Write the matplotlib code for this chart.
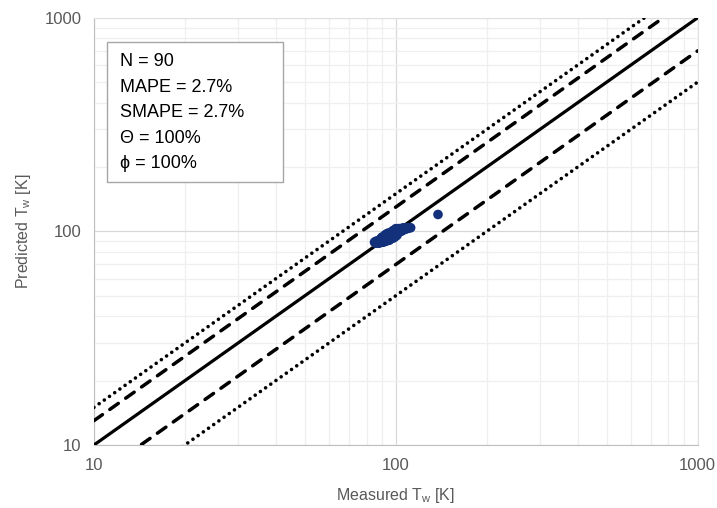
import matplotlib
matplotlib.use('Agg')
import matplotlib.pyplot as plt
from matplotlib.patches import Rectangle
import numpy as np

plt.rcParams['font.family'] = ['Liberation Sans', 'DejaVu Sans']

# measured / predicted wall temperature [K]
measured = [85, 86, 86, 87, 87, 88, 88, 88, 89, 89, 89,
            90, 90, 90, 90, 91, 91, 91, 91, 92, 92, 92, 92,
            93, 93, 93, 93, 94, 94, 94, 94, 95, 95, 95, 95,
            96, 96, 96, 96, 97, 97, 97, 97, 98, 98, 98, 98,
            99, 99, 99, 99, 100, 100, 100, 100, 101, 101, 101, 101,
            102, 102, 102, 103, 103, 103, 104, 104, 104, 105, 105,
            106, 106, 107, 107, 108, 109, 110, 111, 112,
            90, 92, 94, 96, 98, 100, 95, 97, 99, 93, 138]
predicted = [89, 90, 88, 90, 89, 91, 90, 88, 92, 91, 89,
             93, 92, 91, 89, 94, 92, 91, 89, 95, 93, 92, 90,
             96, 94, 92, 90, 97, 95, 93, 91, 97, 96, 94, 91,
             98, 96, 95, 92, 99, 97, 95, 93, 100, 98, 96, 93,
             101, 99, 97, 94, 102, 100, 98, 95, 102, 100, 99, 96,
             103, 101, 99, 103, 102, 100, 103, 102, 100, 103, 101,
             104, 102, 103, 102, 104, 103, 104, 104, 104,
             94, 96, 98, 99, 101, 103, 91, 93, 95, 97, 120]

stats_lines = ['N = 90', 'MAPE = 2.7%', 'SMAPE = 2.7%', 'Θ = 100%', 'ϕ = 100%']

# reference lines: ratio predicted/measured
ref_ratios = [1.0, 1.3, 0.7, 1.5, 0.5]
ref_styles = ['solid', 'dashed', 'dashed', 'dotted', 'dotted']

fig = plt.figure(figsize=(7.17, 5.08), dpi=100)
ax = fig.add_axes([0.131, 0.124, 0.842, 0.841])

xs = np.array([10.0, 1000.0])
for r, st in zip(ref_ratios, ref_styles):
    if st == 'solid':
        ax.plot(xs, r * xs, color='black', lw=2.3, zorder=3)
    elif st == 'dashed':
        ax.plot(xs, r * xs, color='black', lw=2.5, linestyle=(0, (3.0, 2.6)),
                dash_capstyle='round', zorder=3)
    else:
        ax.plot(xs, r * xs, color='black', lw=2.6, linestyle=(0, (0.01, 1.75)),
                dash_capstyle='round', zorder=3)

ax.scatter(measured, predicted, s=48, color='#13307a', edgecolors='none', zorder=4)

ax.set_xscale('log')
ax.set_yscale('log')
ax.set_xlim(10, 1000)
ax.set_ylim(10, 1000)
ax.set_xticks([10, 100, 1000])
ax.set_xticklabels(['10', '100', '1000'])
ax.set_yticks([10, 100, 1000])
ax.set_yticklabels(['10', '100', '1000'])

ax.grid(which='major', color='#d9d9d9', lw=0.9)
ax.grid(which='minor', color='#efefef', lw=0.9)
ax.set_axisbelow(True)
ax.tick_params(which='both', length=0, labelsize=12, colors='#595959', pad=9)
for s in ['left', 'bottom']:
    ax.spines[s].set_color('#bfbfbf')
for s in ['top', 'right']:
    ax.spines[s].set_color('#e0e0e0')

ax.set_xlabel('Measured T$_{\\mathregular{w}}$ [K]', fontsize=11.5, color='#595959', labelpad=10)
ax.set_ylabel('Predicted T$_{\\mathregular{w}}$ [K]', fontsize=11.5, color='#595959', labelpad=8)

box = Rectangle((0.0215, 0.616), 0.2915, 0.328, transform=ax.transAxes,
                facecolor='white', edgecolor='#a6a6a6', lw=1.0, zorder=5)
ax.add_patch(box)
line_y = [0.897, 0.836, 0.778, 0.717, 0.658]
for txt, yy in zip(stats_lines, line_y):
    ax.text(0.043, yy, txt, transform=ax.transAxes, fontsize=13, color='black',
            va='center', ha='left', zorder=6)

fig.savefig('out.png', dpi=100)
